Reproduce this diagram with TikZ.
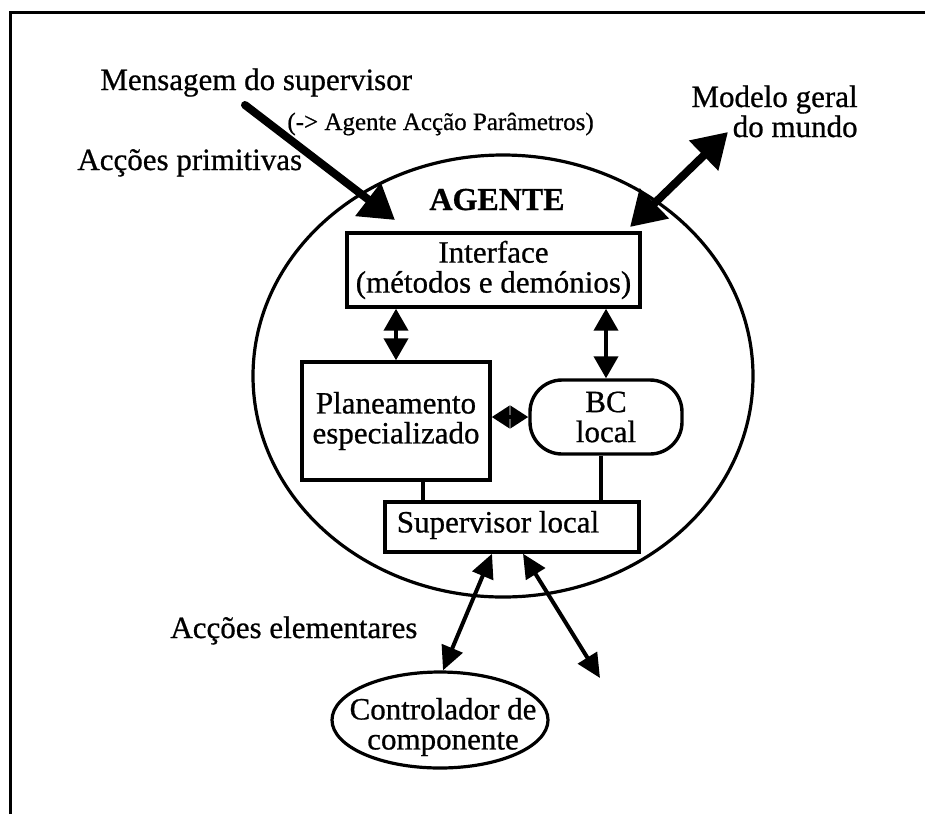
\documentclass[tikz,border=0pt]{standalone}
\usepackage{fontspec}
\setmainfont{Liberation Serif}[FakeBold=0.7]
\usetikzlibrary{arrows.meta,shapes.geometric}
\begin{document}
\begin{tikzpicture}[x=0.5pt,y=-0.5pt,
  every node/.style={font=\fontsize{15.5}{15}\selectfont, inner sep=0pt},
  box/.style={draw, line width=1.7pt, align=center},
  link/.style={line width=1.8pt},
  twoway/.style={line width=2pt,
    {Triangle[length=11pt,width=12pt]}-{Triangle[length=11pt,width=12pt]}},
  smalltwoway/.style={line width=2pt,
    {Triangle[length=9pt,width=11pt]}-{Triangle[length=9pt,width=11pt]}},
  heavy/.style={line width=4pt, line cap=round},
  heavytip/.style={-{Triangle[length=17pt,width=20pt]}},
  heavytwoway/.style={{Triangle[length=17pt,width=20pt]}-{Triangle[length=17pt,width=20pt]}},
  smalltext/.style={font=\fontsize{12.5}{13}\selectfont}
]
\useasboundingbox (0,0) rectangle (925,820);

% outer frame (top and left edges)
\draw[line width=1.5pt] (10,814) -- (10,12) -- (925,12);

% the agent
\node[draw, ellipse, line width=1.6pt, minimum width=250pt, minimum height=221pt] (agent) at (503,376) {};
\node[font=\bfseries\fontsize{16}{16}\selectfont, anchor=base] (agtitle) at (497,210) {AGENTE};

% internal modules
\node[box, minimum width=146.5pt, minimum height=37pt] (iface) at (493.5,270)
  {Interface\\(métodos e demónios)};
\node[box, minimum width=94pt, minimum height=59pt] (plan) at (396,421)
  {Planeamento\\especializado};
\node[box, rounded corners=16pt, minimum width=76pt, minimum height=37pt] (bc) at (606,417)
  {BC\\local};
\node[box, minimum width=127pt, minimum height=25pt] (sup) at (512,527) {};
\node (suptext) at (498,525) {Supervisor local};

% links between modules
\draw[twoway] (plan.north) -- (plan.north |- iface.south);
\draw[twoway] (bc.north) -- (bc.north |- iface.south);
\draw[smalltwoway] (bc.west -| plan.east) -- (bc.west);
\draw[link] ([xshift=13.5pt]plan.south) -- ([xshift=13.5pt]plan.south |- sup.north);
\draw[link] ([xshift=-2.5pt]bc.south) -- ([xshift=-2.5pt]bc.south |- sup.north);

% component controller
\node[draw, ellipse, line width=1.6pt, minimum width=108pt, minimum height=48pt] (ctrl) at (440,720) {};
\node[align=center] (ctrltext) at (443,727) {Controlador de\\componente};
\coordinate (elsewhere) at (600,678);

\draw[line width=2pt, {Triangle[length=12pt,width=11pt]}-{Triangle[length=12pt,width=11pt]}]
  ([xshift=-10pt]sup.south) -- ([xshift=1.5pt]ctrl.north);
\draw[line width=2pt, {Triangle[length=12pt,width=11pt]}-{Triangle[length=12pt,width=11pt]}]
  ([xshift=5.5pt]sup.south) -- (elsewhere);
\node[anchor=base west] (elem) at (170,638) {Acções elementares};

% messages from the supervisor
\node[anchor=base west] (msg) at (100,90) {Mensagem do supervisor};
\node[anchor=base west, smalltext] (msgfmt) at (287,130) {(-> Agente Acção Parâmetros)};
\node[anchor=base west] (prim) at (77,170) {Acções primitivas};
\coordinate (msgA) at (245,105);
\coordinate (msgB) at (395,220);
\draw[heavy, heavytip] (msgA) -- (msgB);

% world model
\node[anchor=base east] (world) at (858,107) {Modelo geral};
\node[anchor=base east] (world2) at (858,137) {do mundo};
\coordinate (wldA) at (630,227);
\coordinate (wldB) at (728,132);
\draw[heavy, heavytwoway] (wldA) -- (wldB);
\end{tikzpicture}
\end{document}
